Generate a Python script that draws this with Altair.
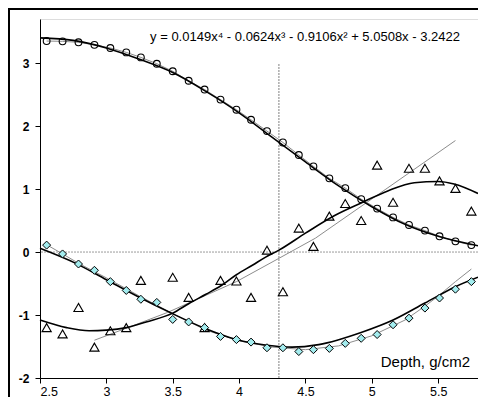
import altair as alt
import pandas as pd

# ---- data ----
depth = [2.55, 2.67, 2.79, 2.91, 3.03, 3.15, 3.26, 3.38, 3.50, 3.62, 3.74, 3.86, 3.98, 4.09,
         4.21, 4.33, 4.45, 4.56, 4.68, 4.80, 4.92, 5.04, 5.16, 5.28, 5.40, 5.51, 5.63, 5.75]
circles = [3.35, 3.345, 3.33, 3.29, 3.24, 3.17, 3.09, 2.99, 2.87, 2.72, 2.58, 2.42, 2.26, 2.10,
           1.92, 1.74, 1.54, 1.36, 1.17, 1.015, 0.84, 0.69, 0.55, 0.43, 0.34, 0.25, 0.17, 0.11]
triangles = [-1.20, -1.30, -0.88, -1.51, -1.25, -1.20, -0.45, None, -0.40, -0.72, -1.20, -0.45, -0.46, -0.72,
             0.03, -0.63, 0.38, 0.09, 0.57, 0.77, 0.50, 1.38, 0.79, 1.33, 1.33, 1.13, 1.01, 0.65]
diamonds = [0.11, -0.03, -0.19, -0.29, -0.47, -0.61, -0.75, -0.80, -1.07, -1.11, -1.20, -1.34, -1.39, -1.43,
            -1.52, -1.52, -1.58, -1.55, -1.53, -1.45, -1.37, -1.31, -1.155, -1.05, -0.89, -0.73, -0.59, -0.47]

# black fitted curves
circ_fit_x = [2.5, 2.75, 3.0, 3.25, 3.5, 3.75, 4.0, 4.25, 4.5, 4.75, 5.0, 5.25, 5.5, 5.8]
circ_fit_y = [3.40, 3.36, 3.24, 3.06, 2.85, 2.55, 2.21, 1.82, 1.43, 1.05, 0.72, 0.44, 0.25, 0.10]

tri_fit_x = [2.5, 2.7, 2.87, 3.0, 3.15, 3.3, 3.5, 3.62, 3.75, 3.86, 3.98, 4.1, 4.2, 4.3, 4.5,
             4.72, 4.92, 5.12, 5.32, 5.5, 5.62, 5.8]
tri_fit_y = [-1.08, -1.20, -1.25, -1.24, -1.20, -1.11, -0.97, -0.82, -0.67, -0.54, -0.36, -0.21, -0.08,
             0.03, 0.30, 0.58, 0.78, 0.97, 1.10, 1.12, 1.08, 0.93]

dia_fit_x = [2.5, 2.77, 3.0, 3.24, 3.5, 3.74, 3.98, 4.21, 4.4, 4.6, 4.93, 5.16, 5.4, 5.63, 5.8]
dia_fit_y = [0.06, -0.18, -0.44, -0.71, -0.98, -1.21, -1.39, -1.48, -1.51, -1.47, -1.27, -1.08, -0.81,
             -0.55, -0.40]

# thin grey curves
tri_grey_x = [2.91, 3.2, 3.46, 3.98, 4.3, 4.575, 5.1, 5.63]
tri_grey_y = [-1.40, -1.17, -0.96, -0.47, -0.10, 0.22, 0.99, 1.77]

dia_grey_x = [2.555, 2.67, 2.8, 3.0, 3.25, 3.5, 3.75, 4.0, 4.25, 4.5, 4.75, 5.0, 5.25, 5.4, 5.5, 5.63, 5.75]
dia_grey_y = [0.11, -0.03, -0.19, -0.41, -0.70, -0.98, -1.24, -1.41, -1.51, -1.55, -1.49, -1.33, -1.08,
              -0.86, -0.70, -0.47, -0.27]

ref_depth = [4.3]
ref_top = [3.0]
ref_bottom = [-2.0]
zero_level = [0.0]

x_ticks = [2.5, 3, 3.5, 4, 4.5, 5, 5.5]
y_ticks = [-2, -1, 0, 1, 2, 3]
equation = "y = 0.0149x\u2074 - 0.0624x\u00b3 - 0.9106x\u00b2 + 5.0508x - 3.2422"
x_title = "Depth, g/cm2"

FONT = "Liberation Sans"

# ---- tables ----
pts = pd.DataFrame({"depth": depth, "circ": circles, "tri": triangles, "dia": diamonds})


def curve(xs, ys, name):
    return pd.DataFrame({"x": xs, "y": ys, "s": name})


fits = pd.concat([curve(circ_fit_x, circ_fit_y, "c"),
                  curve(tri_fit_x, tri_fit_y, "t"),
                  curve(dia_fit_x, dia_fit_y, "d")])
greys = pd.concat([curve(depth, circles, "c"),
                   curve(tri_grey_x, tri_grey_y, "t"),
                   curve(dia_grey_x, dia_grey_y, "d")])

xs = alt.Scale(domain=[2.5, 5.8], nice=False, zero=False)
ys = alt.Scale(domain=[-2, 3.7], nice=False, zero=False)

x_axis = alt.Axis(values=x_ticks, title=None, grid=False, domainColor="black", tickColor="black",
                  tickSize=5, labelFontSize=12.5, labelFont=FONT, labelColor="black", labelPadding=2,
                  labelExpr="'' + datum.value")
y_axis = alt.Axis(values=y_ticks, title=None, grid=False, domainColor="black", tickColor="black",
                  tickSize=5, labelFontSize=12, labelFontWeight="bold", labelFont=FONT,
                  labelColor="black", labelPadding=6, labelExpr="'' + datum.value")

base_pts = alt.Chart(pts)

zero_line = alt.Chart(pd.DataFrame({"y": zero_level})).mark_rule(
    color="#9a9a9a", strokeWidth=1, strokeDash=[2, 1]).encode(y=alt.Y("y:Q", scale=ys, axis=y_axis))

vline = alt.Chart(pd.DataFrame({"x": ref_depth, "y1": ref_bottom, "y2": ref_top})).mark_rule(
    color="#808080", strokeWidth=1, strokeDash=[2, 1]).encode(
    x=alt.X("x:Q", scale=xs, axis=x_axis), y=alt.Y("y1:Q", scale=ys), y2="y2:Q")

grey_lines = alt.Chart(greys).mark_line(color="#8c8c8c", strokeWidth=1).encode(
    x=alt.X("x:Q", scale=xs), y=alt.Y("y:Q", scale=ys), detail="s:N")

fit_lines = alt.Chart(fits).mark_line(color="black", strokeWidth=1.6, interpolate="monotone").encode(
    x=alt.X("x:Q", scale=xs), y=alt.Y("y:Q", scale=ys), detail="s:N")

tri_pts = base_pts.transform_filter("isValid(datum.tri)").mark_point(
    shape="triangle-up", size=85, filled=False, color="black", strokeWidth=1.1, opacity=1).encode(
    x=alt.X("depth:Q", scale=xs), y=alt.Y("tri:Q", scale=ys))

circ_pts = base_pts.mark_point(
    shape="circle", size=46, filled=False, color="black", strokeWidth=1.1, opacity=1).encode(
    x=alt.X("depth:Q", scale=xs), y=alt.Y("circ:Q", scale=ys))

dia_pts = base_pts.mark_point(
    shape="diamond", size=64, filled=True, fill="#a3ecee", stroke="black", strokeWidth=1,
    opacity=1, fillOpacity=1).encode(
    x=alt.X("depth:Q", scale=xs), y=alt.Y("dia:Q", scale=ys))

one = pd.DataFrame({"a": [0]})
eq_text = alt.Chart(one).mark_text(
    text=equation, font=FONT, fontSize=13, align="center", baseline="middle", color="black").encode(
    x=alt.value(265), y=alt.value(18))

title_text = alt.Chart(one).mark_text(
    text=x_title, font=FONT, fontSize=15, align="right", baseline="middle", color="black").encode(
    x=alt.value(430), y=alt.value(343))

frame_top = alt.Chart(one).mark_rule(color="black", strokeWidth=2).encode(
    x=alt.value(-32), x2=alt.value(460), y=alt.value(-10))
frame_left = alt.Chart(one).mark_rule(color="black", strokeWidth=2).encode(
    x=alt.value(-31), y=alt.value(-11), y2=alt.value(400))

chart = alt.layer(
    zero_line, vline, grey_lines, fit_lines, tri_pts, circ_pts, dia_pts,
    eq_text, title_text, frame_top, frame_left
).properties(
    width=438, height=359,
    autosize=alt.AutoSizeParams(type="none"),
    padding={"left": 32, "top": 11, "right": 0, "bottom": 19},
).configure_view(
    stroke="#8a8a8a", strokeWidth=1
).configure(background="white")

chart.save("out.html", embed_options={"renderer": "svg", "actions": False})
